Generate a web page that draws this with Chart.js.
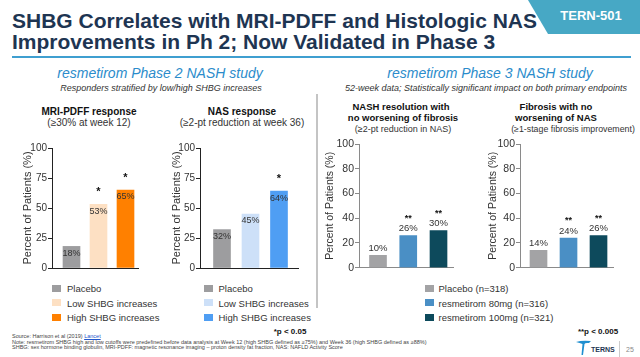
<!DOCTYPE html>
<html><head><meta charset="utf-8">
<script src="https://cdn.jsdelivr.net/npm/chart.js@4.4.1/dist/chart.umd.min.js"></script>
<style>
html,body{margin:0;padding:0;background:#fff;}
body{width:640px;height:357px;position:relative;overflow:hidden;font-family:"Liberation Sans",Arial,sans-serif;color:#333;}
.a{position:absolute;white-space:nowrap;}
.c{position:absolute;white-space:nowrap;line-height:1;transform:translate(-50%,-50%);}
.l{position:absolute;white-space:nowrap;line-height:1;transform:translate(0,-50%);}
canvas{position:absolute;}
</style></head><body>

<div id="badge" class="a" style="left:0;top:0;width:640px;height:34px;background:#47a8c5;clip-path:polygon(528px 0,640px 0,640px 34px,548px 34px);"></div>
<div class="c" style="left:591px;top:15px;font:bold 13px 'Liberation Sans';color:#fff;">TERN-501</div>

<div class="a" style="left:12px;top:11px;font:bold 21px/20.5px 'Liberation Sans';color:#1e3552;">SHBG Correlates with MRI-PDFF and Histologic NAS<br>Improvements in Ph 2; Now Validated in Phase 3</div>
<div class="a" style="left:12px;top:56px;width:619px;height:2px;background:#3f9fd0;"></div>

<div class="c" style="left:160px;top:73px;font:italic 14px 'Liberation Sans';color:#2b8ccb;">resmetirom Phase 2 NASH study</div>
<div class="c" style="left:161px;top:88px;font:italic 9px 'Liberation Sans';color:#333;">Responders stratified by low/high SHBG increases</div>
<div class="c" style="left:490px;top:73px;font:italic 14px 'Liberation Sans';color:#2b8ccb;">resmetirom Phase 3 NASH study</div>
<div class="c" style="left:486px;top:88px;font:italic 9px 'Liberation Sans';color:#333;">52-week data; Statistically significant impact on both primary endpoints</div>

<div class="a" style="left:316px;top:94px;width:2px;height:214px;background:#c4c4c4;"></div>

<div class="c" style="left:89px;top:111px;font:bold 10px 'Liberation Sans';color:#111;">MRI-PDFF response</div>
<div class="c" style="left:89px;top:122px;font:10px 'Liberation Sans';color:#333;">(≥30% at week 12)</div>
<div class="c" style="left:242px;top:111px;font:bold 10px 'Liberation Sans';color:#111;">NAS response</div>
<div class="c" style="left:242px;top:122px;font:10px 'Liberation Sans';color:#333;">(≥2-pt reduction at week 36)</div>

<div class="c" style="left:401px;top:106px;font:bold 9.5px 'Liberation Sans';color:#111;">NASH resolution with</div>
<div class="c" style="left:403px;top:117px;font:bold 9.5px 'Liberation Sans';color:#111;">no worsening of fibrosis</div>
<div class="c" style="left:403px;top:128.5px;font:9px 'Liberation Sans';color:#333;">(≥2-pt reduction in NAS)</div>
<div class="c" style="left:556px;top:106px;font:bold 9.5px 'Liberation Sans';color:#111;">Fibrosis with no</div>
<div class="c" style="left:556px;top:117px;font:bold 9.5px 'Liberation Sans';color:#111;">worsening of NAS</div>
<div class="c" style="left:573px;top:128.5px;font:8.8px 'Liberation Sans';color:#333;">(≥1-stage fibrosis improvement)</div>

<canvas id="c1" width="130" height="137" style="left:14px;top:138px;"></canvas>
<canvas id="c2" width="140" height="137" style="left:164px;top:138px;"></canvas>
<canvas id="c3" width="139" height="141" style="left:320px;top:134px;"></canvas>
<canvas id="c4" width="137" height="141" style="left:482px;top:134px;"></canvas>

<div id="legends"></div>

<div class="c" style="left:290px;top:331px;font:bold 8px 'Liberation Sans';color:#111;">*p &lt; 0.05</div>
<div class="c" style="left:598px;top:331px;font:bold 8px 'Liberation Sans';color:#111;">**p &lt; 0.005</div>

<div class="l" style="left:12px;top:336px;font:5.5px 'Liberation Sans';color:#444;">Source: Harrison et al (2019) <span style="color:#2255cc;text-decoration:underline;">Lancet</span></div>
<div class="l" style="left:12px;top:341.5px;font:5.5px 'Liberation Sans';color:#444;">Note: resmetirom SHBG high and low cutoffs were predefined before data analysis at Week 12 (high SHBG defined as ≥75%) and Week 36 (high SHBG defined as ≥88%)</div>
<div class="l" style="left:12px;top:347px;font:5.5px 'Liberation Sans';color:#444;">SHBG: sex hormone binding globulin, MRI-PDFF: magnetic resonance imaging – proton density fat fraction, NAS: NAFLD Activity Score</div>

<svg class="a" style="left:576px;top:340px;" width="16" height="16" viewBox="0 0 16 16">
  <path d="M0 2 Q6 0 15 1 L13 3 Q9 2.5 8.5 4 L7 15 L5.5 15 L6.5 4 Q4 3 0 2 Z" fill="#1f8fd0"/>
</svg>
<div class="l" style="left:591px;top:348.5px;font:bold 7px 'Liberation Sans';color:#1e3552;">TERNS</div>
<div class="a" style="left:619px;top:341px;width:1px;height:16px;background:#ccc;"></div>
<div class="l" style="left:626px;top:349px;font:7px 'Liberation Sans';color:#888;">25</div>

<script>
// ---- data ----
const p2Categories = ['Placebo', 'Low SHBG increases', 'High SHBG increases'];
const mriPdffValues = [18, 53, 65];
const mriPdffStars = ['', '*', '*'];
const nasValues = [32, 45, 64];
const nasStars = ['', '', '*'];
const p3Categories = ['Placebo (n=318)', 'resmetirom 80mg (n=316)', 'resmetirom 100mg (n=321)'];
const nashResolutionValues = [10, 26, 30];
const nashResolutionStars = ['', '**', '**'];
const fibrosisValues = [14, 24, 26];
const fibrosisStars = ['', '**', '**'];
const p2Ticks = [0, 25, 50, 75, 100];
const p3Ticks = [0, 20, 40, 60, 80, 100];

// ---- styles ----
const orangeColors = ['#9d9d9f', '#fde0c3', '#ff8000'];
const blueColors = ['#9d9d9f', '#cde0f8', '#4f9ef3'];
const p3Colors = ['#a3a3a5', '#4a8fc5', '#0d4a5c'];
const FONT = '"Liberation Sans", Arial, sans-serif';

const barLabelPlugin = {
  id: 'barLabels',
  afterDatasetsDraw(chart, args, o) {
    const ctx = chart.ctx;
    const meta = chart.getDatasetMeta(0);
    const ds = chart.data.datasets[0];
    meta.data.forEach((bar, i) => {
      const v = ds.data[i].y;
      ctx.save();
      ctx.textAlign = 'center';
      ctx.textBaseline = 'middle';
      ctx.fillStyle = '#333';
      ctx.font = o.labelSize + 'px ' + FONT;
      const ly = o.inside ? bar.y + o.labelOffset : bar.y - o.labelOffset;
      ctx.fillText(v + '%', bar.x, ly);
      if (o.stars[i]) {
        ctx.textBaseline = 'alphabetic';
        ctx.fillStyle = '#111';
        ctx.font = 'bold ' + o.starSize + 'px ' + FONT;
        ctx.fillText(o.stars[i], bar.x, bar.y - o.starOffset);
      }
      ctx.restore();
    });
  }
};

function makeChart(id, c) {
  return new Chart(document.getElementById(id), {
    type: 'bar',
    data: {
      labels: c.categories,
      datasets: [{
        data: c.values.map((v, i) => ({ x: i, y: v })),
        backgroundColor: c.colors,
        borderWidth: 0,
        barThickness: 17
      }]
    },
    options: {
      responsive: false,
      animation: false,
      devicePixelRatio: 1,
      layout: { padding: { top: 10, right: 6, bottom: 6, left: 0 } },
      plugins: {
        legend: { display: false },
        tooltip: { enabled: false },
        barLabels: c.labels
      },
      scales: {
        x: {
          type: 'linear', min: c.xMin, max: c.xMax, bounds: 'data', offset: false,
          grid: { display: false, offset: false },
          ticks: { display: false },
          border: { display: true, color: c.axisColor, width: 1 },
          afterBuildTicks: s => { s.min = c.xMin; s.max = c.xMax; },
          afterFit: s => { s.height = 0; }
        },
        y: {
          min: 0, max: 100,
          afterBuildTicks: s => { s.ticks = c.ticks.map(v => ({ value: v })); },
          grid: { drawOnChartArea: false, drawTicks: true, tickLength: 4, color: c.axisColor },
          border: { display: true, color: c.axisColor, width: 1 },
          ticks: { font: { size: c.tickSize, family: FONT }, color: '#333', padding: 1 },
          title: {
            display: true, text: 'Percent of Patients (%)',
            font: { size: c.titleSize, family: FONT }, color: '#333',
            padding: { top: c.titlePad, bottom: 0 }
          },
          afterFit: s => { s.width = c.yWidth; }
        }
      }
    },
    plugins: [barLabelPlugin]
  });
}

const p2Label = (stars) => ({ inside: true, labelOffset: 7, labelSize: 9, stars: stars, starSize: 11, starOffset: 9 });
const p3Label = (stars) => ({ inside: false, labelOffset: 7, labelSize: 9.5, stars: stars, starSize: 9, starOffset: 15 });

makeChart('c1', { categories: p2Categories, values: mriPdffValues, colors: orangeColors, ticks: p2Ticks,
  xMin: -0.722, xMax: 2.463, axisColor: '#222', tickSize: 10, titleSize: 11, titlePad: 7.4, yWidth: 38, labels: p2Label(mriPdffStars) });
makeChart('c2', { categories: p2Categories, values: nasValues, colors: blueColors, ticks: p2Ticks,
  xMin: -0.772, xMax: 2.667, axisColor: '#222', tickSize: 10, titleSize: 11, titlePad: 6.4, yWidth: 36, labels: p2Label(nasStars) });
makeChart('c3', { categories: p3Categories, values: nashResolutionValues, colors: p3Colors, ticks: p3Ticks,
  xMin: -0.628, xMax: 2.479, axisColor: '#8a8a8a', tickSize: 10.5, titleSize: 10.5, titlePad: 3.7, yWidth: 39, labels: p3Label(nashResolutionStars) });
makeChart('c4', { categories: p3Categories, values: fibrosisValues, colors: p3Colors, ticks: p3Ticks,
  xMin: -0.617, xMax: 2.483, axisColor: '#8a8a8a', tickSize: 10.5, titleSize: 10.5, titlePad: 4.7, yWidth: 38, labels: p3Label(fibrosisStars) });

// ---- legends (HTML, built from the category arrays) ----
function legend(cats, colors, sx, tx) {
  const rows = [288.3, 302.7, 317];
  let h = '';
  cats.forEach((name, i) => {
    h += '<div class="a" style="left:' + sx + 'px;top:' + (rows[i] - 3.5) + 'px;width:9px;height:7px;background:' + colors[i] + ';"></div>';
    h += '<div class="l" style="left:' + tx + 'px;top:' + rows[i] + 'px;font:9.5px ' + FONT.replace(/"/g, "'") + ';color:#333;">' + name + '</div>';
  });
  return h;
}
document.getElementById('legends').innerHTML =
  legend(p2Categories, orangeColors, 52, 67) +
  legend(p2Categories, blueColors, 204, 218.5) +
  legend(p3Categories, p3Colors, 424.5, 438.5);
</script>
</body></html>
